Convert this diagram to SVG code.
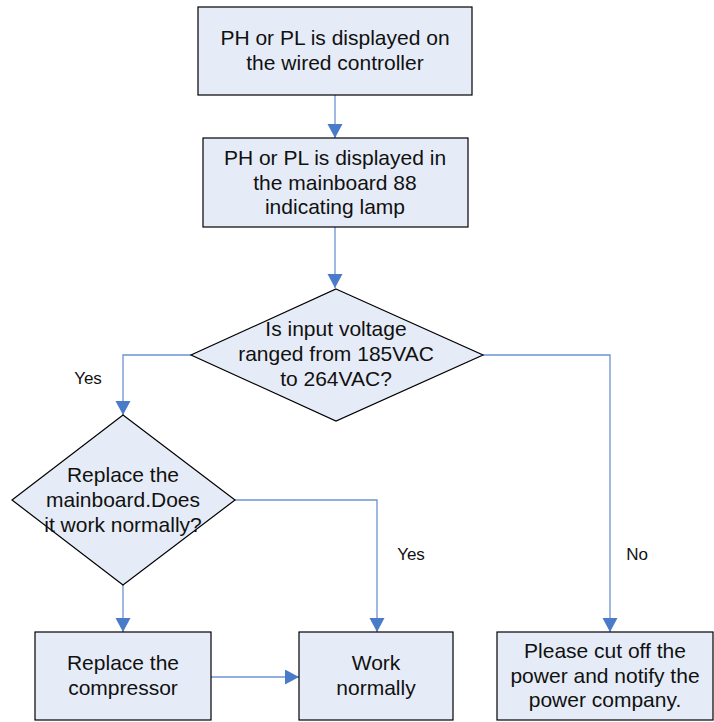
<svg xmlns="http://www.w3.org/2000/svg" width="714" height="722" viewBox="0 0 714 722">
<style>
.shape{fill:#e6ecf7;stroke:#000;stroke-width:1.2}
.t{font-family:"Liberation Sans",Arial,sans-serif;font-size:21px;fill:#111;text-anchor:middle}
.lbl{font-family:"Liberation Sans",Arial,sans-serif;font-size:17px;fill:#111;text-anchor:middle}
.c{fill:none;stroke:#6b93d3;stroke-width:1.3}
</style>
<defs>
<marker id="ah" markerUnits="userSpaceOnUse" markerWidth="16" markerHeight="16" refX="14" refY="7.5" orient="auto">
<path d="M0,0 L14,7.5 L0,15 z" fill="#4a7bc8"/>
</marker>
</defs>
<rect width="714" height="722" fill="#fff"/>
<g id="connectors">
<path class="c" d="M335,95 V138" marker-end="url(#ah)"/>
<path class="c" d="M335,227 V288" marker-end="url(#ah)"/>
<path class="c" d="M191,355 H123 V415" marker-end="url(#ah)"/>
<path class="c" d="M483,355 H610 V632" marker-end="url(#ah)"/>
<path class="c" d="M235,500 H377 V632" marker-end="url(#ah)"/>
<path class="c" d="M123,585 V632" marker-end="url(#ah)"/>
<path class="c" d="M211,677 H299" marker-end="url(#ah)"/>
<text class="lbl" x="88" y="384">Yes</text>
<text class="lbl" x="411" y="560">Yes</text>
<text class="lbl" x="637" y="560">No</text>
<text class="lbl" x="136" y="558">No</text>
</g>
<g id="n1">
<rect class="shape" x="198" y="7" width="274" height="88"/>
<text class="t" x="335" y="45">PH or PL is displayed on</text>
<text class="t" x="335" y="70">the wired controller</text>
</g>
<g id="n2">
<rect class="shape" x="203" y="138" width="265" height="89"/>
<text class="t" x="335" y="165">PH or PL is displayed in</text>
<text class="t" x="335" y="190">the mainboard 88</text>
<text class="t" x="335" y="214">indicating lamp</text>
</g>
<g id="n3">
<polygon class="shape" points="336,289 483,355 336,421 191,355"/>
<text class="t" x="336" y="336">Is input voltage</text>
<text class="t" x="336" y="361">ranged from 185VAC</text>
<text class="t" x="336" y="386">to 264VAC?</text>
</g>
<g id="n4">
<polygon class="shape" points="123,415 235,500 123,585 12,500"/>
<text class="t" x="123" y="482">Replace the</text>
<text class="t" x="123" y="507">mainboard.Does</text>
<text class="t" x="123" y="532">it work normally?</text>
</g>
<g id="n5">
<rect class="shape" x="35" y="632" width="176" height="88"/>
<text class="t" x="123" y="670">Replace the</text>
<text class="t" x="123" y="695">compressor</text>
</g>
<g id="n6">
<rect class="shape" x="299" y="632" width="154" height="88"/>
<text class="t" x="376" y="670">Work</text>
<text class="t" x="376" y="695">normally</text>
</g>
<g id="n7">
<rect class="shape" x="497" y="632" width="216" height="88"/>
<text class="t" x="605" y="658">Please cut off the</text>
<text class="t" x="605" y="683">power and notify the</text>
<text class="t" x="605" y="707">power company.</text>
</g>
</svg>
